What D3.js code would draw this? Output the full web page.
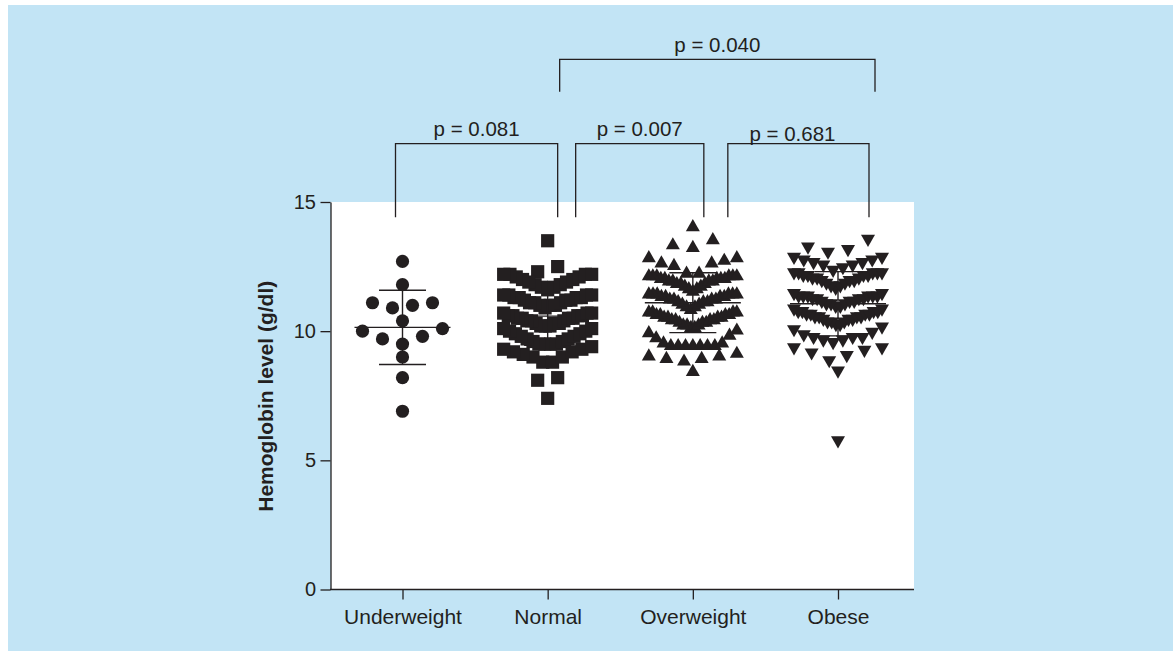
<!DOCTYPE html>
<html><head><meta charset="utf-8">
<script src="https://cdn.jsdelivr.net/npm/d3@7"></script>
<style>html,body{margin:0;padding:0;background:#fff;}svg{display:block;font-family:"Liberation Sans",Arial,Helvetica,sans-serif;}</style>
</head><body>
<svg id="chart" width="1173" height="651"></svg>
<script>
// ---------------- data ----------------
const categories = ["Underweight", "Normal", "Overweight", "Obese"];
const underweight = [12.7, 11.8, 11.1, 10.9, 11.0, 11.1, 10.4, 10.0, 10.1, 9.7, 9.8, 9.5, 9.0, 8.2, 6.9];
const normal = [13.5, 12.5, 12.3,
  12.2, 12.2, 12.2, 12.2, 12.1, 12.1, 12.0, 12.0, 11.9, 11.9, 11.8, 11.8, 11.7, 11.7, 11.6,
  11.4, 11.4, 11.4, 11.4, 11.3, 11.3, 11.3, 11.3, 11.2, 11.2, 11.2, 11.1, 11.1, 11.1, 11.0, 11.0, 11.0, 10.9,
  10.7, 10.7, 10.7, 10.6, 10.6, 10.6, 10.6, 10.5, 10.5, 10.5, 10.5, 10.4, 10.4, 10.4, 10.3, 10.3, 10.3, 10.2, 10.2, 10.2,
  10.1, 10.1, 10.0, 10.0, 9.9, 9.9, 9.8, 9.8, 9.7, 9.7, 9.6, 9.6, 9.5, 9.5, 9.5, 9.5,
  9.4, 9.3, 9.3, 9.2, 9.2, 9.1, 9.0, 9.0, 8.8, 8.8,
  8.2, 8.1, 7.4];
const overweight = [14.1, 13.6, 13.4, 13.3,
  12.9, 12.9, 12.8, 12.7, 12.7, 12.6, 12.3, 12.3,
  12.2, 12.2, 12.2, 12.2, 12.2, 12.2, 12.1, 12.1, 12.1, 12.1, 12.1, 12.0, 12.0, 12.0, 12.0, 11.9, 11.9, 11.9, 11.8, 11.8, 11.7, 11.7, 11.6,
  11.5, 11.5, 11.5, 11.5, 11.5, 11.5, 11.4, 11.4, 11.4, 11.4, 11.3, 11.3, 11.3, 11.3, 11.2, 11.2, 11.2, 11.1, 11.1, 11.0, 11.0, 10.9,
  10.8, 10.8, 10.8, 10.8, 10.7, 10.7, 10.7, 10.7, 10.6, 10.6, 10.6, 10.6, 10.5, 10.5, 10.5, 10.5, 10.4, 10.4, 10.4, 10.3, 10.3, 10.3, 10.2, 10.2,
  10.1, 10.0, 9.9, 9.8, 9.6, 9.6, 9.5, 9.5, 9.5, 9.5, 9.5, 9.5, 9.5,
  9.2, 9.1, 9.1, 9.0, 9.0, 8.9,
  8.5];
const obese = [13.5, 13.2, 13.1, 13.0,
  12.8, 12.8, 12.7, 12.7, 12.6, 12.6, 12.5, 12.5, 12.4, 12.3,
  12.2, 12.2, 12.2, 12.2, 12.2, 12.1, 12.1, 12.1, 12.1, 12.0, 12.0, 12.0, 11.9, 11.9, 11.9, 11.8, 11.8, 11.7, 11.7, 11.6,
  11.4, 11.4, 11.3, 11.3, 11.3, 11.3, 11.3, 11.3, 11.2, 11.2, 11.2, 11.2, 11.1, 11.1, 11.1, 11.0, 11.0, 11.0, 10.9, 10.9,
  10.8, 10.8, 10.7, 10.7, 10.7, 10.7, 10.6, 10.6, 10.6, 10.6, 10.5, 10.5, 10.5, 10.5, 10.4, 10.4, 10.4, 10.3, 10.3, 10.3, 10.2, 10.2,
  10.1, 10.0, 9.9, 9.8, 9.7, 9.7, 9.7, 9.6, 9.6, 9.5,
  9.3, 9.3, 9.2, 9.1, 9.0, 8.8,
  8.4, 5.7];
const yTicks = [0, 5, 10, 15];
const yTitle = "Hemoglobin level (g/dl)";
const comparisons = [
  {from: "Underweight", to: "Normal", label: "p = 0.081"},
  {from: "Normal", to: "Overweight", label: "p = 0.007"},
  {from: "Overweight", to: "Obese", label: "p = 0.681"},
  {from: "Normal", to: "Obese", label: "p = 0.040"}
];

// ---------------- drawing ----------------
const INK = "#231f20";
const W = 1173, H = 651;
const svg = d3.select("#chart");
svg.append("rect").attr("x", 8).attr("y", 5).attr("width", W - 8).attr("height", H - 5).attr("fill", "#c2e4f5");

const plot = {left: 331, right: 914, top: 202, bottom: 589.5};
svg.append("rect").attr("x", plot.left).attr("y", plot.top)
  .attr("width", plot.right - plot.left).attr("height", plot.bottom - plot.top).attr("fill", "#fff");

const y = d3.scaleLinear().domain([0, 15]).range([plot.bottom, plot.top]);
const x = d3.scalePoint().domain(categories).range([402.5, 838]);

// y axis
const yAxis = svg.append("g").attr("transform", `translate(${plot.left - 0.5},0)`)
  .call(d3.axisLeft(y).tickValues(yTicks).tickSize(10).tickSizeOuter(0).tickPadding(4.5));
yAxis.selectAll("path,line").attr("stroke", INK).attr("stroke-width", 1.3);
yAxis.selectAll("text").attr("font-size", 20).attr("fill", INK).attr("font-family", null);

// x axis
const xAxis = svg.append("g").attr("transform", `translate(0,${plot.bottom})`)
  .call(d3.axisBottom(x).tickSize(10).tickSizeOuter(0).tickPadding(9.5));
xAxis.select(".domain").remove();
xAxis.selectAll("line").attr("stroke", INK).attr("stroke-width", 1.3);
xAxis.selectAll("text").attr("font-size", 21).attr("fill", INK).attr("font-family", null);
svg.append("line").attr("x1", plot.left - 1).attr("x2", plot.right)
  .attr("y1", plot.bottom).attr("y2", plot.bottom).attr("stroke", INK).attr("stroke-width", 1.3);

// y title
svg.append("text").attr("transform", `translate(273,${(plot.top + plot.bottom) / 2 + 0.5}) rotate(-90)`)
  .attr("text-anchor", "middle").attr("font-size", 21).attr("font-weight", "bold").attr("fill", INK).text(yTitle);

// column scatter layout: bin by value rows, spread horizontally, lowest value at centre
function layout(values) {
  const bins = d3.group(values, v => Math.floor(Math.round((15 - v) * 10) / 7));
  const out = [];
  for (const [, vals] of bins) {
    const sorted = vals.slice().sort((a, b) => a - b);
    const n = sorted.length;
    const s = n > 1 ? Math.min(20, 88 / (n - 1)) : 0;
    const slots = d3.range(n).map(k => (k - (n - 1) / 2) * s)
      .sort((a, b) => (Math.abs(a) - Math.abs(b)) || (a - b));
    sorted.forEach((v, i) => out.push({v, dx: slots[i]}));
  }
  return out;
}

const groups = [underweight, normal, overweight, obese];
const shapePaths = [
  d3.symbol(d3.symbolCircle, Math.PI * 6.6 * 6.6)(),
  "M-6.6,-6.6H6.6V6.6H-6.6Z",
  "M0,-6.2L7,6L-7,6Z",
  "M-7,-6H7L0,6.2Z"
];

groups.forEach((vals, gi) => {
  const cx = x(categories[gi]);
  const m = d3.mean(vals), sd = d3.deviation(vals);
  const g = svg.append("g");
  const ln = (x1, x2, y1, y2) => g.append("line").attr("x1", x1).attr("x2", x2).attr("y1", y1).attr("y2", y2)
    .attr("stroke", INK).attr("stroke-width", 1.4);
  ln(cx - 48, cx + 48, y(m), y(m));
  ln(cx - 23.5, cx + 23.5, y(m + sd), y(m + sd));
  ln(cx - 23.5, cx + 23.5, y(m - sd), y(m - sd));
  ln(cx, cx, y(m + sd), y(m - sd));
  g.selectAll("path.pt").data(layout(vals)).join("path").attr("class", "pt")
    .attr("d", shapePaths[gi])
    .attr("transform", d => `translate(${cx + d.dx},${y(d.v)})`)
    .attr("fill", INK);
});

// significance brackets
const bracketTiers = [{top: 143.7, leg: 217.3, text: 136}, {top: 59.3, leg: 91.7, text: 52}];
const bracketLayout = [
  {tier: 0, nudge: [-7, 10], tdx: 0, tdy: 0},
  {tier: 0, nudge: [28, 11], tdx: 0, tdy: 0},
  {tier: 0, nudge: [35, 31], tdx: -6, tdy: 5},
  {tier: 1, nudge: [12, 37], tdx: 0, tdy: 0}
];
comparisons.forEach((c, i) => {
  const L = bracketLayout[i], T = bracketTiers[L.tier];
  const x1 = x(c.from) + L.nudge[0], x2 = x(c.to) + L.nudge[1];
  svg.append("path").attr("d", `M${x1},${T.leg}V${T.top}H${x2}V${T.leg}`)
    .attr("fill", "none").attr("stroke", INK).attr("stroke-width", 1.3);
  svg.append("text").attr("x", (x1 + x2) / 2 + L.tdx).attr("y", T.text + L.tdy)
    .attr("text-anchor", "middle").attr("font-size", 20.5).attr("fill", INK).text(c.label);
});
</script>
</body></html>
